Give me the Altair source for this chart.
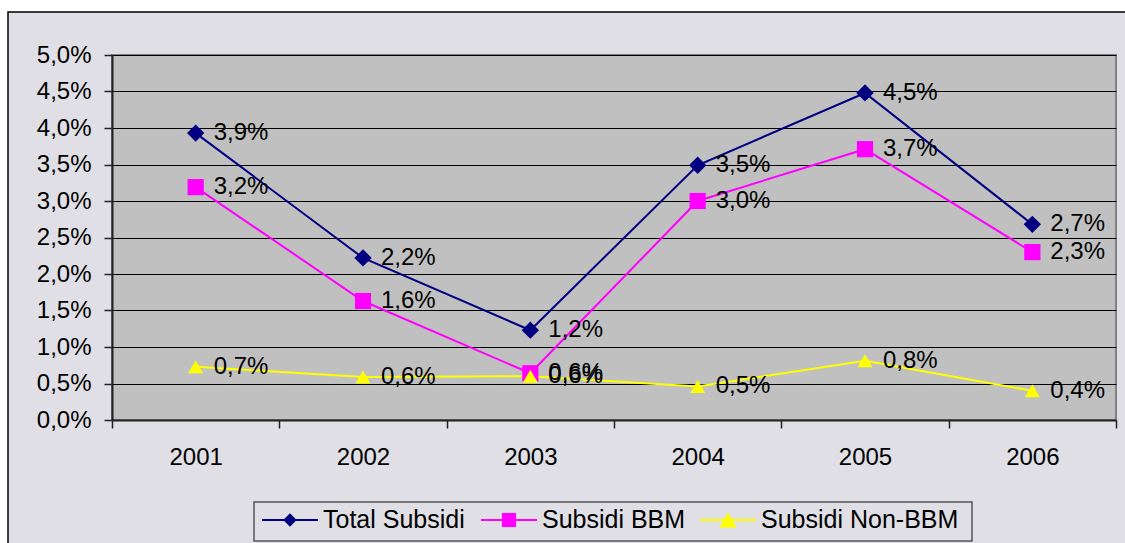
import altair as alt
import pandas as pd

# Subsidy shares per year (percent)
YEARS = ["2001", "2002", "2003", "2004", "2005", "2006"]
SERIES = ["Total Subsidi", "Subsidi BBM", "Subsidi Non-BBM"]
TOTAL = [3.93, 2.22, 1.23, 3.49, 4.48, 2.68]
BBM = [3.19, 1.63, 0.64, 3.00, 3.71, 2.30]
NON_BBM = [0.73, 0.59, 0.60, 0.46, 0.81, 0.40]
Y_TICKS = [0.0, 0.5, 1.0, 1.5, 2.0, 2.5, 3.0, 3.5, 4.0, 4.5, 5.0]

COLORS = ["#000080", "#ff00ff", "#ffff00"]
SHAPES = ["diamond", "square", "triangle-up"]
SIZES = [300, 225, 340]

FONT = "Liberation Sans"
W, H = 1004, 365
PAD_L, PAD_T = 112, 55

rows = []
for name, vals in zip(SERIES, [TOTAL, BBM, NON_BBM]):
    for yr, v in zip(YEARS, vals):
        rows.append({"year": yr, "series": name, "value": v})
df = pd.DataFrame(rows)

pct_expr = "replace(format(datum.value, '.1f'), '.', ',') + '%'"

x_enc = alt.X(
    "year:O", sort=YEARS,
    scale=alt.Scale(type="band", paddingInner=0, paddingOuter=0),
    axis=alt.Axis(title=None, labelAngle=0, tickBand="extent", tickSize=8,
                  labelPadding=17, labelFontSize=24, labelFont=FONT,
                  labelColor="black", domainColor="#222222", domainWidth=2,
                  tickColor="#222222", tickWidth=1.5, grid=False),
)
y_enc = alt.Y(
    "value:Q",
    scale=alt.Scale(domain=[0, 5], nice=False),
    axis=alt.Axis(title=None, values=Y_TICKS, labelExpr=pct_expr, grid=True,
                  gridColor="black", gridWidth=1, tickSize=8, labelPadding=13,
                  labelFontSize=24, labelFont=FONT, labelColor="black",
                  domainColor="#222222", domainWidth=2, tickColor="#222222",
                  tickWidth=1.5),
)
color_enc = alt.Color("series:N", scale=alt.Scale(domain=SERIES, range=COLORS), legend=None)

base = alt.Chart(df)

lines = base.mark_line(strokeWidth=2).encode(x=x_enc, y=y_enc, color=color_enc)
points = base.mark_point(filled=True, opacity=1).encode(
    x=x_enc, y=y_enc, color=color_enc,
    shape=alt.Shape("series:N", scale=alt.Scale(domain=SERIES, range=SHAPES), legend=None),
    size=alt.Size("series:N", scale=alt.Scale(domain=SERIES, range=SIZES), legend=None),
)
labels = base.transform_calculate(label=pct_expr).mark_text(
    align="left", baseline="middle", dx=18, fontSize=24, font=FONT, color="black"
).encode(x=x_enc, y=y_enc, text="label:N")

one = pd.DataFrame({"k": [0]})

# Chart frame: white margin strips and the black outline of the chart area
frame = [
    alt.Chart(one).mark_rect(color="white").encode(
        x=alt.value(-PAD_L), x2=alt.value(-PAD_L + 8), y=alt.value(-PAD_T), y2=alt.value(520)),
    alt.Chart(one).mark_rect(color="white").encode(
        x=alt.value(-PAD_L), x2=alt.value(1100), y=alt.value(-PAD_T), y2=alt.value(-PAD_T + 12)),
    alt.Chart(one).mark_rect(fillOpacity=0, stroke="black", strokeWidth=1.5).encode(
        x=alt.value(-PAD_L + 8), x2=alt.value(1060), y=alt.value(-PAD_T + 12), y2=alt.value(560)),
]

# Legend box with one line-and-marker key per series
LEG_Y = 465
legend = [
    alt.Chart(one).mark_rect(fill="#dfdfe5", stroke="#555555", strokeWidth=1.5).encode(
        x=alt.value(142), x2=alt.value(860), y=alt.value(447), y2=alt.value(486)),
]
LEG_LINE_X = [150, 369, 588]
for i, name in enumerate(SERIES):
    item = pd.DataFrame({"series": [name]})
    lx = LEG_LINE_X[i]
    legend.append(alt.Chart(item).mark_rule(strokeWidth=2, color=COLORS[i]).encode(
        x=alt.value(lx), x2=alt.value(lx + 56), y=alt.value(LEG_Y)))
    legend.append(alt.Chart(item).mark_point(
        filled=True, opacity=1, color=COLORS[i], shape=SHAPES[i],
        size=[180, 200, 300][i]).encode(x=alt.value(lx + 28), y=alt.value(LEG_Y)))
    legend.append(alt.Chart(item).mark_text(
        align="left", baseline="middle", fontSize=25, font=FONT, color="black").encode(
        x=alt.value(lx + 61), y=alt.value(LEG_Y), text="series:N"))

chart = alt.layer(*frame, lines, points, labels, *legend).properties(
    width=W, height=H,
    padding={"left": PAD_L, "top": PAD_T, "right": 1125 - PAD_L - W, "bottom": 543 - PAD_T - H},
    autosize=alt.AutoSizeParams(type="none"),
    background="#dfdfe5",
).configure_view(fill="#c0c0c0", stroke="#808080", strokeWidth=2)

chart.save("out.html", embed_options={"renderer": "svg", "actions": False})
